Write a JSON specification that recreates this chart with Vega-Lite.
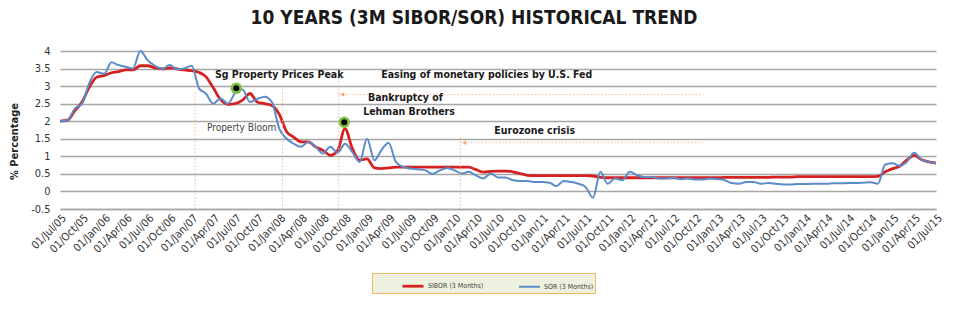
{
"$schema": "https://vega.github.io/schema/vega-lite/v6.json",
"width": 876, "height": 158,
"autosize": {"type": "none"},
"padding": {"left": 60, "top": 51, "right": 36, "bottom": 116},
"background": "white",
"title": {"text": "10 YEARS (3M SIBOR/SOR)  HISTORICAL TREND", "fontSize": 19, "fontWeight": "bold", "font": "Liberation Sans Narrow, DejaVu Sans Condensed, sans-serif", "color": "#1a1a1a", "anchor": "middle", "offset": 17, "dx": -24},
"config": {"view": {"stroke": null}, "font": "Liberation Sans Narrow, DejaVu Sans Condensed, sans-serif"},
"datasets": {
"series": [
{"date":"2005/07/01","SIBOR (3 Months)":2.00,"SOR (3 Months)":2.00},
{"date":"2005/08/01","SIBOR (3 Months)":2.03,"SOR (3 Months)":2.03},
{"date":"2005/09/01","SIBOR (3 Months)":2.30,"SOR (3 Months)":2.36},
{"date":"2005/10/01","SIBOR (3 Months)":2.55,"SOR (3 Months)":2.50},
{"date":"2005/11/01","SIBOR (3 Months)":2.98,"SOR (3 Months)":3.10},
{"date":"2005/12/01","SIBOR (3 Months)":3.25,"SOR (3 Months)":3.40},
{"date":"2006/01/01","SIBOR (3 Months)":3.30,"SOR (3 Months)":3.35},
{"date":"2006/02/01","SIBOR (3 Months)":3.38,"SOR (3 Months)":3.68},
{"date":"2006/03/01","SIBOR (3 Months)":3.41,"SOR (3 Months)":3.60},
{"date":"2006/04/01","SIBOR (3 Months)":3.46,"SOR (3 Months)":3.55},
{"date":"2006/05/01","SIBOR (3 Months)":3.46,"SOR (3 Months)":3.50},
{"date":"2006/06/01","SIBOR (3 Months)":3.58,"SOR (3 Months)":4.00},
{"date":"2006/07/01","SIBOR (3 Months)":3.58,"SOR (3 Months)":3.74},
{"date":"2006/08/01","SIBOR (3 Months)":3.52,"SOR (3 Months)":3.58},
{"date":"2006/09/01","SIBOR (3 Months)":3.49,"SOR (3 Months)":3.49},
{"date":"2006/10/01","SIBOR (3 Months)":3.52,"SOR (3 Months)":3.60},
{"date":"2006/11/01","SIBOR (3 Months)":3.49,"SOR (3 Months)":3.48},
{"date":"2006/12/01","SIBOR (3 Months)":3.46,"SOR (3 Months)":3.50},
{"date":"2007/01/01","SIBOR (3 Months)":3.44,"SOR (3 Months)":3.58},
{"date":"2007/02/01","SIBOR (3 Months)":3.39,"SOR (3 Months)":2.93},
{"date":"2007/03/01","SIBOR (3 Months)":3.27,"SOR (3 Months)":2.79},
{"date":"2007/04/01","SIBOR (3 Months)":2.95,"SOR (3 Months)":2.50},
{"date":"2007/05/01","SIBOR (3 Months)":2.62,"SOR (3 Months)":2.65},
{"date":"2007/06/01","SIBOR (3 Months)":2.48,"SOR (3 Months)":2.50},
{"date":"2007/07/01","SIBOR (3 Months)":2.50,"SOR (3 Months)":2.80},
{"date":"2007/08/01","SIBOR (3 Months)":2.60,"SOR (3 Months)":2.90},
{"date":"2007/09/01","SIBOR (3 Months)":2.79,"SOR (3 Months)":2.55},
{"date":"2007/10/01","SIBOR (3 Months)":2.55,"SOR (3 Months)":2.63},
{"date":"2007/11/01","SIBOR (3 Months)":2.50,"SOR (3 Months)":2.70},
{"date":"2007/12/01","SIBOR (3 Months)":2.45,"SOR (3 Months)":2.55},
{"date":"2008/01/01","SIBOR (3 Months)":2.20,"SOR (3 Months)":1.79},
{"date":"2008/02/01","SIBOR (3 Months)":1.70,"SOR (3 Months)":1.50},
{"date":"2008/03/01","SIBOR (3 Months)":1.55,"SOR (3 Months)":1.36},
{"date":"2008/04/01","SIBOR (3 Months)":1.41,"SOR (3 Months)":1.27},
{"date":"2008/05/01","SIBOR (3 Months)":1.41,"SOR (3 Months)":1.41},
{"date":"2008/06/01","SIBOR (3 Months)":1.27,"SOR (3 Months)":1.27},
{"date":"2008/07/01","SIBOR (3 Months)":1.17,"SOR (3 Months)":1.08},
{"date":"2008/08/01","SIBOR (3 Months)":1.03,"SOR (3 Months)":1.27},
{"date":"2008/09/01","SIBOR (3 Months)":1.17,"SOR (3 Months)":1.10},
{"date":"2008/10/01","SIBOR (3 Months)":1.79,"SOR (3 Months)":1.36},
{"date":"2008/11/01","SIBOR (3 Months)":1.22,"SOR (3 Months)":1.12},
{"date":"2008/12/01","SIBOR (3 Months)":0.89,"SOR (3 Months)":0.84},
{"date":"2009/01/01","SIBOR (3 Months)":0.93,"SOR (3 Months)":1.50},
{"date":"2009/02/01","SIBOR (3 Months)":0.67,"SOR (3 Months)":0.89},
{"date":"2009/03/01","SIBOR (3 Months)":0.65,"SOR (3 Months)":1.17},
{"date":"2009/04/01","SIBOR (3 Months)":0.67,"SOR (3 Months)":1.39},
{"date":"2009/05/01","SIBOR (3 Months)":0.69,"SOR (3 Months)":0.84},
{"date":"2009/06/01","SIBOR (3 Months)":0.69,"SOR (3 Months)":0.70},
{"date":"2009/07/01","SIBOR (3 Months)":0.69,"SOR (3 Months)":0.65},
{"date":"2009/08/01","SIBOR (3 Months)":0.69,"SOR (3 Months)":0.63},
{"date":"2009/09/01","SIBOR (3 Months)":0.69,"SOR (3 Months)":0.60},
{"date":"2009/10/01","SIBOR (3 Months)":0.69,"SOR (3 Months)":0.50},
{"date":"2009/11/01","SIBOR (3 Months)":0.69,"SOR (3 Months)":0.60},
{"date":"2009/12/01","SIBOR (3 Months)":0.69,"SOR (3 Months)":0.67},
{"date":"2010/01/01","SIBOR (3 Months)":0.69,"SOR (3 Months)":0.60},
{"date":"2010/02/01","SIBOR (3 Months)":0.69,"SOR (3 Months)":0.51},
{"date":"2010/03/01","SIBOR (3 Months)":0.69,"SOR (3 Months)":0.56},
{"date":"2010/04/01","SIBOR (3 Months)":0.62,"SOR (3 Months)":0.45},
{"date":"2010/05/01","SIBOR (3 Months)":0.55,"SOR (3 Months)":0.37},
{"date":"2010/06/01","SIBOR (3 Months)":0.57,"SOR (3 Months)":0.51},
{"date":"2010/07/01","SIBOR (3 Months)":0.58,"SOR (3 Months)":0.40},
{"date":"2010/08/01","SIBOR (3 Months)":0.58,"SOR (3 Months)":0.40},
{"date":"2010/09/01","SIBOR (3 Months)":0.56,"SOR (3 Months)":0.32},
{"date":"2010/10/01","SIBOR (3 Months)":0.51,"SOR (3 Months)":0.30},
{"date":"2010/11/01","SIBOR (3 Months)":0.46,"SOR (3 Months)":0.30},
{"date":"2010/12/01","SIBOR (3 Months)":0.45,"SOR (3 Months)":0.27},
{"date":"2011/01/01","SIBOR (3 Months)":0.45,"SOR (3 Months)":0.27},
{"date":"2011/02/01","SIBOR (3 Months)":0.45,"SOR (3 Months)":0.25},
{"date":"2011/03/01","SIBOR (3 Months)":0.45,"SOR (3 Months)":0.15},
{"date":"2011/04/01","SIBOR (3 Months)":0.45,"SOR (3 Months)":0.30},
{"date":"2011/05/01","SIBOR (3 Months)":0.45,"SOR (3 Months)":0.27},
{"date":"2011/06/01","SIBOR (3 Months)":0.45,"SOR (3 Months)":0.22},
{"date":"2011/07/01","SIBOR (3 Months)":0.45,"SOR (3 Months)":0.13},
{"date":"2011/08/01","SIBOR (3 Months)":0.44,"SOR (3 Months)":-0.18},
{"date":"2011/09/01","SIBOR (3 Months)":0.40,"SOR (3 Months)":0.56},
{"date":"2011/10/01","SIBOR (3 Months)":0.39,"SOR (3 Months)":0.22},
{"date":"2011/11/01","SIBOR (3 Months)":0.39,"SOR (3 Months)":0.37},
{"date":"2011/12/01","SIBOR (3 Months)":0.39,"SOR (3 Months)":0.32},
{"date":"2012/01/01","SIBOR (3 Months)":0.39,"SOR (3 Months)":0.56},
{"date":"2012/02/01","SIBOR (3 Months)":0.39,"SOR (3 Months)":0.46},
{"date":"2012/03/01","SIBOR (3 Months)":0.39,"SOR (3 Months)":0.41},
{"date":"2012/04/01","SIBOR (3 Months)":0.39,"SOR (3 Months)":0.41},
{"date":"2012/05/01","SIBOR (3 Months)":0.39,"SOR (3 Months)":0.37},
{"date":"2012/06/01","SIBOR (3 Months)":0.39,"SOR (3 Months)":0.37},
{"date":"2012/07/01","SIBOR (3 Months)":0.39,"SOR (3 Months)":0.39},
{"date":"2012/08/01","SIBOR (3 Months)":0.39,"SOR (3 Months)":0.35},
{"date":"2012/09/01","SIBOR (3 Months)":0.39,"SOR (3 Months)":0.37},
{"date":"2012/10/01","SIBOR (3 Months)":0.39,"SOR (3 Months)":0.34},
{"date":"2012/11/01","SIBOR (3 Months)":0.39,"SOR (3 Months)":0.34},
{"date":"2012/12/01","SIBOR (3 Months)":0.39,"SOR (3 Months)":0.37},
{"date":"2013/01/01","SIBOR (3 Months)":0.39,"SOR (3 Months)":0.35},
{"date":"2013/02/01","SIBOR (3 Months)":0.40,"SOR (3 Months)":0.32},
{"date":"2013/03/01","SIBOR (3 Months)":0.40,"SOR (3 Months)":0.24},
{"date":"2013/04/01","SIBOR (3 Months)":0.40,"SOR (3 Months)":0.22},
{"date":"2013/05/01","SIBOR (3 Months)":0.40,"SOR (3 Months)":0.27},
{"date":"2013/06/01","SIBOR (3 Months)":0.40,"SOR (3 Months)":0.27},
{"date":"2013/07/01","SIBOR (3 Months)":0.40,"SOR (3 Months)":0.22},
{"date":"2013/08/01","SIBOR (3 Months)":0.40,"SOR (3 Months)":0.24},
{"date":"2013/09/01","SIBOR (3 Months)":0.41,"SOR (3 Months)":0.22},
{"date":"2013/10/01","SIBOR (3 Months)":0.41,"SOR (3 Months)":0.20},
{"date":"2013/11/01","SIBOR (3 Months)":0.41,"SOR (3 Months)":0.20},
{"date":"2013/12/01","SIBOR (3 Months)":0.42,"SOR (3 Months)":0.21},
{"date":"2014/01/01","SIBOR (3 Months)":0.42,"SOR (3 Months)":0.21},
{"date":"2014/02/01","SIBOR (3 Months)":0.42,"SOR (3 Months)":0.22},
{"date":"2014/03/01","SIBOR (3 Months)":0.42,"SOR (3 Months)":0.22},
{"date":"2014/04/01","SIBOR (3 Months)":0.42,"SOR (3 Months)":0.22},
{"date":"2014/05/01","SIBOR (3 Months)":0.42,"SOR (3 Months)":0.23},
{"date":"2014/06/01","SIBOR (3 Months)":0.42,"SOR (3 Months)":0.23},
{"date":"2014/07/01","SIBOR (3 Months)":0.42,"SOR (3 Months)":0.24},
{"date":"2014/08/01","SIBOR (3 Months)":0.42,"SOR (3 Months)":0.24},
{"date":"2014/09/01","SIBOR (3 Months)":0.42,"SOR (3 Months)":0.25},
{"date":"2014/10/01","SIBOR (3 Months)":0.42,"SOR (3 Months)":0.26},
{"date":"2014/11/01","SIBOR (3 Months)":0.43,"SOR (3 Months)":0.22},
{"date":"2014/12/01","SIBOR (3 Months)":0.56,"SOR (3 Months)":0.76},
{"date":"2015/01/01","SIBOR (3 Months)":0.65,"SOR (3 Months)":0.80},
{"date":"2015/02/01","SIBOR (3 Months)":0.72,"SOR (3 Months)":0.73},
{"date":"2015/03/01","SIBOR (3 Months)":0.89,"SOR (3 Months)":0.84},
{"date":"2015/04/01","SIBOR (3 Months)":1.03,"SOR (3 Months)":1.10},
{"date":"2015/05/01","SIBOR (3 Months)":0.91,"SOR (3 Months)":0.91},
{"date":"2015/06/01","SIBOR (3 Months)":0.84,"SOR (3 Months)":0.84},
{"date":"2015/07/01","SIBOR (3 Months)":0.81,"SOR (3 Months)":0.81}
],
"vrules": [
{"date":"2007/01/15","value":-0.5,"top":2.88},
{"date":"2008/01/15","value":-0.5,"top":2.96},
{"date":"2008/09/05","value":-0.5,"top":3.37},
{"date":"2010/01/25","value":-0.5,"top":1.55}
],
"hrules": [
{"date":"2008/09/05","date2":"2012/11/01","value":2.76},
{"date":"2010/01/25","date2":"2012/11/01","value":1.39}
],
"arrows": [
{"date":"2008/09/20","value":2.76},
{"date":"2010/02/10","value":1.39}
],
"labels": [
{"date":"2008/01/01","value":3.31,"label":"Sg Property Prices Peak","kind":"bold"},
{"date":"2010/05/15","value":3.31,"label":"Easing of monetary policies by U.S. Fed","kind":"bold"},
{"date":"2009/06/10","value":2.66,"label":"Bankruptcy of","kind":"bold"},
{"date":"2009/06/25","value":2.26,"label":"Lehman Brothers","kind":"bold"},
{"date":"2010/12/01","value":1.72,"label":"Eurozone crisis","kind":"bold"},
{"date":"2007/07/28","value":1.80,"label":"Property Bloom","kind":"plain"}
],
"dots": [
{"date":"2007/07/06","value":2.94},
{"date":"2008/09/28","value":1.97}
]
},
"encoding": {
"x": {"field": "date", "type": "temporal",
 "scale": {"domain": [{"year": 2005, "month": 7, "date": 1}, {"year": 2015, "month": 7, "date": 1}]},
 "axis": {"title": null, "format": "%d/%b/%y", "tickCount": {"interval": "month", "step": 3}, "labelAngle": -45, "labelOverlap": false, "labelBound": false, "labelFlush": false, "grid": false, "ticks": false, "domain": true, "domainColor": "#a6a6a6", "domainWidth": 1.5, "labelFontSize": 11, "labelColor": "#333333", "labelPadding": 3}},
"y": {"field": "value", "type": "quantitative",
 "scale": {"domain": [-0.5, 4], "nice": false, "zero": false},
 "axis": {"title": "% Percentage", "values": [-0.5, 0, 0.5, 1, 1.5, 2, 2.5, 3, 3.5, 4], "labelExpr": "datum.value + ''", "grid": true, "gridColor": "#a6a6a6", "gridWidth": 1.5, "domain": false, "ticks": false, "labelPadding": 10, "labelFontSize": 11, "labelColor": "#333333", "titleFontSize": 11, "titleFontWeight": "bold", "titleColor": "#222222", "titleX": -46, "titleY": 90, "titleAlign": "center", "titleBaseline": "middle"}}
},
"layer": [
{"data": {"name": "series"},
 "transform": [{"fold": ["SIBOR (3 Months)", "SOR (3 Months)"], "as": ["series", "value"]}],
 "mark": {"type": "line", "interpolate": "monotone"},
 "encoding": {
  "color": {"field": "series", "type": "nominal", "scale": {"domain": ["SIBOR (3 Months)", "SOR (3 Months)"], "range": ["#D42222", "#5B8BC8"]},
   "legend": {"orient": "none", "legendX": 312, "legendY": 222, "direction": "horizontal", "title": null, "fillColor": "#EEF0E0", "strokeColor": "#EDB95E", "padding": 1, "symbolType": "stroke", "symbolSize": 441, "symbolStrokeWidth": 2, "symbolOffset": 28, "labelFontSize": 7, "labelColor": "#444444", "columnPadding": 6, "labelOffset": 3}},
  "strokeWidth": {"field": "series", "type": "nominal", "scale": {"domain": ["SIBOR (3 Months)", "SOR (3 Months)"], "range": [2.8, 2]}, "legend": null}
 }},
{"data": {"name": "vrules"},
 "mark": {"type": "rule", "color": "#EDB898", "strokeDash": [1.5, 2], "strokeWidth": 1},
 "encoding": {"y2": {"field": "top"}}},
{"data": {"name": "hrules"},
 "mark": {"type": "rule", "color": "#F4C09C", "strokeDash": [1.5, 2], "strokeWidth": 1},
 "encoding": {"x2": {"field": "date2"}}},
{"data": {"name": "arrows"},
 "mark": {"type": "point", "shape": "triangle-left", "filled": true, "size": 20, "color": "#F0A878", "opacity": 1}},
{"data": {"name": "labels"},
 "transform": [{"filter": "datum.kind == 'bold'"}],
 "mark": {"type": "text", "fontSize": 10.5, "fontWeight": "bold", "color": "#1a1a1a", "align": "center", "baseline": "middle"},
 "encoding": {"text": {"field": "label"}}},
{"data": {"name": "labels"},
 "transform": [{"filter": "datum.kind == 'plain'"}],
 "mark": {"type": "text", "fontSize": 10, "color": "#444444", "align": "center", "baseline": "middle"},
 "encoding": {"text": {"field": "label"}}},
{"data": {"name": "dots"},
 "mark": {"type": "point", "shape": "circle", "filled": true, "size": 130, "color": "#7DC242", "opacity": 1}},
{"data": {"name": "dots"},
 "mark": {"type": "point", "shape": "circle", "filled": true, "size": 36, "color": "#000000", "opacity": 1}}
]
}
